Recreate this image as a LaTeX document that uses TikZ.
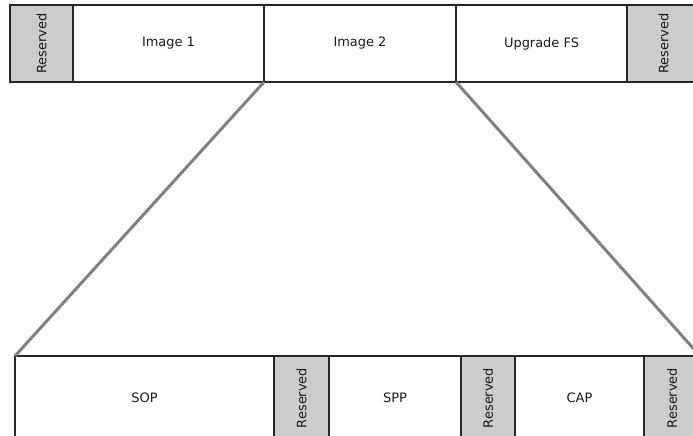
\documentclass[tikz,border=0pt]{standalone}
\usepackage{fontspec}
\setmainfont{DejaVu Sans}
\usepackage{tikz}
\usetikzlibrary{positioning}
\definecolor{resgray}{RGB}{204,204,204}
\definecolor{linkgray}{RGB}{128,128,128}
\tikzset{
  part/.style={draw=black!85, line width=1.5bp, anchor=north west,
    inner sep=0pt, outer sep=0pt, minimum height=77bp,
    font=\fontsize{13}{15}\selectfont, text=black!90},
  respart/.style={part, fill=resgray},
  link/.style={draw=linkgray, line width=3bp}
}
\begin{document}
\begin{tikzpicture}[x=1bp, y=-1bp]
            % Frame of the page
            \path[use as bounding box, clip] (0,0) rectangle (693,436);
            % Flash layout
            \node[respart, minimum width=63bp] (res1) at (10,5) {\rotatebox{90}{Reserved}};
            \node[part, minimum width=191bp, right=0pt of res1] (img1) {Image 1};
            \node[part, minimum width=192bp, right=0pt of img1] (img2) {Image 2};
            \node[part, minimum width=171bp, right=0pt of img2] (upg) {Upgrade FS};
            \node[respart, minimum width=73bp, right=0pt of upg] (res2) {\rotatebox{90}{Reserved}};
            % Inside Image 2
            \node[part, minimum height=84bp, minimum width=259bp] (sop) at (15,356) {SOP};
            \node[respart, minimum height=84bp, minimum width=55bp, right=0pt of sop] (res3) {\rotatebox{90}{Reserved}};
            \node[part, minimum height=84bp, minimum width=132bp, right=0pt of res3] (spp) {SPP};
            \node[respart, minimum height=84bp, minimum width=54bp, right=0pt of spp] (res4) {\rotatebox{90}{Reserved}};
            \node[part, minimum height=84bp, minimum width=129bp, right=0pt of res4] (cap) {CAP};
            \node[respart, minimum height=84bp, minimum width=56bp, right=0pt of cap] (res5) {\rotatebox{90}{Reserved}};
            % Zoom lines
            \draw[link] (img2.south west) -- (sop.north west);
            \draw[link] (img2.south east) -- (res5.north east);
\end{tikzpicture}
\end{document}
